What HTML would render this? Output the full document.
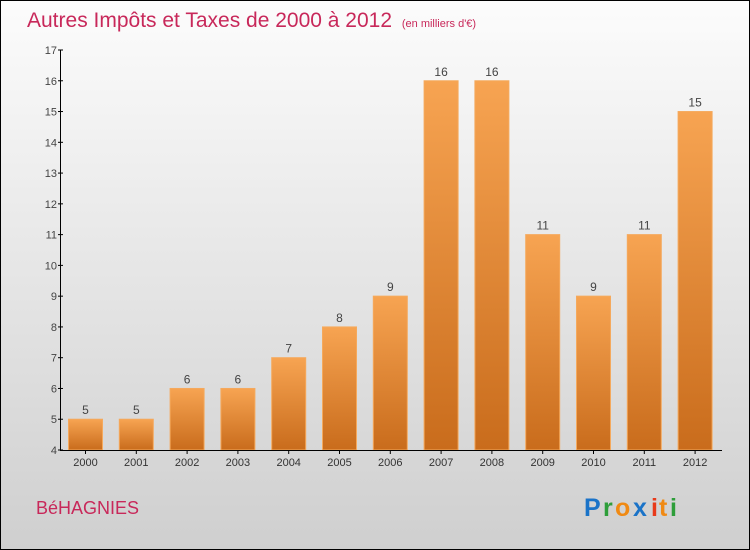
<!DOCTYPE html>
<html><head><meta charset="utf-8"><style>
body{margin:0}
svg{display:block;font-family:"Liberation Sans",sans-serif}
</style></head><body>
<svg width="750" height="550" viewBox="0 0 750 550">
<defs>
<linearGradient id="bg" x1="0" y1="0" x2="0" y2="1"><stop offset="0" stop-color="#fcfcfc"/><stop offset="1" stop-color="#cfcfcf"/></linearGradient>
<linearGradient id="bar" x1="0" y1="0" x2="0" y2="1"><stop offset="0" stop-color="#f7a452"/><stop offset="1" stop-color="#c96c1c"/></linearGradient>
</defs>
<rect x="0.5" y="0.5" width="749" height="549" fill="url(#bg)" stroke="#000"/>
<text x="27" y="27" font-size="21" fill="#c8285a">Autres Impôts et Taxes de 2000 à 2012 <tspan font-size="11" dx="4">(en milliers d'€)</tspan></text>
<g id="plot"></g>
<text x="36" y="514" font-size="18" fill="#c8285a">BéHAGNIES</text>
<g font-size="25" font-weight="bold">
<text x="584" y="516" fill="#1a73c8">P</text><text x="603" y="516" fill="#2e9e3a">r</text><text x="615" y="516" fill="#f08a14">o</text><text x="633" y="516" fill="#1a73c8">x</text><text x="651" y="516" fill="#e83a1a">i</text><text x="659" y="516" fill="#f08a14">t</text><text x="670" y="516" fill="#2e9e3a">i</text>
</g>
</svg>
<script>
const years=["2000","2001","2002","2003","2004","2005","2006","2007","2008","2009","2010","2011","2012"];
const values=[5,5,6,6,7,8,9,16,16,11,9,11,15];
const yTicks=[4,5,6,7,8,9,10,11,12,13,14,15,16,17];
const NS="http://www.w3.org/2000/svg";
const g=document.getElementById('plot');
const y=v=>450-(v-4)*400/13;
const x=i=>85.5+50.8*i;
function el(t,a,txt){const e=document.createElementNS(NS,t);for(const k in a)e.setAttribute(k,a[k]);if(txt!==undefined)e.textContent=txt;g.appendChild(e);return e;}
values.forEach((v,i)=>{
 const r=el('rect',{x:x(i)-17,y:y(v),width:34,height:450-y(v),fill:'url(#bar)',stroke:'#f5a95c','stroke-width':1});
 
 
 const t=el('text',{x:x(i),y:y(v)-5,'text-anchor':'middle','font-size':12,fill:'#444'},v);
 
 
 const xl=el('text',{x:x(i),y:466,'text-anchor':'middle','font-size':11,fill:'#333'},years[i]);
 
 
 el('line',{x1:x(i),x2:x(i),y1:450,y2:454,stroke:'#000'});
});
yTicks.forEach(v=>{
 el('line',{x1:58,x2:63,y1:y(v),y2:y(v),stroke:'#000'});
 const t=el('text',{x:57,y:y(v)+4,'text-anchor':'end','font-size':11,fill:'#444'},v);
 
 
});
const ya=el('line',{x1:60.5,x2:60.5,y1:50,y2:451,stroke:'#000'});


const xa=el('line',{x1:60,x2:722,y1:450.5,y2:450.5,stroke:'#000'});


</script>
</body></html>
